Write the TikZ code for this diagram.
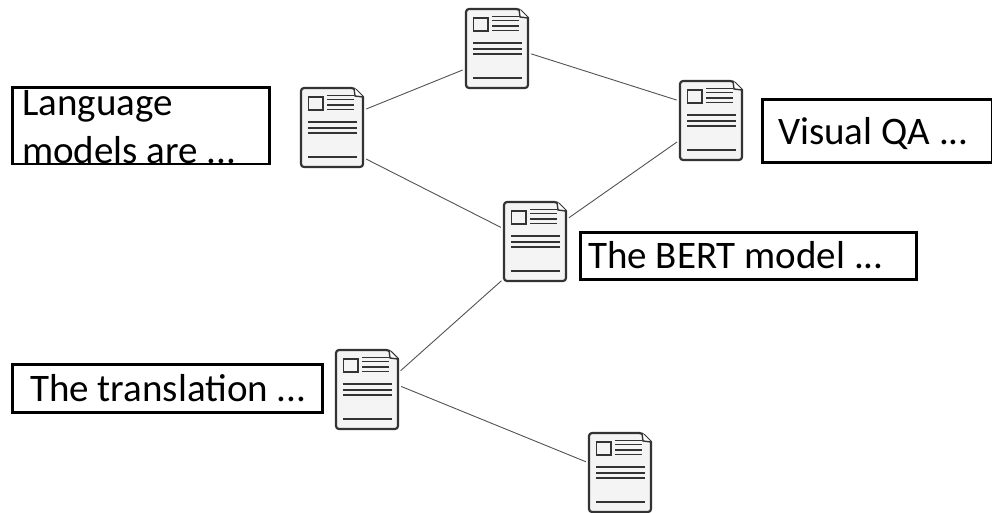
\documentclass[tikz,border=0pt]{standalone}
\usepackage{fontspec}
\setmainfont{Carlito}
\definecolor{ink}{HTML}{333333}
\definecolor{paper}{HTML}{F4F4F4}
\tikzset{
  x=1pt,y=-1pt,
  docnode/.style={rectangle,minimum width=62pt,minimum height=79pt,inner sep=0pt,outer sep=0pt},
  link/.style={draw=ink!85!white,line width=0.9pt,shorten >=3.5pt,shorten <=3.5pt},
  textbox/.style={draw=black,line width=2.3pt,rectangle,inner sep=0pt,outer sep=0pt,anchor=north west},
  caption/.style={font=\fontsize{39}{48}\selectfont,text=black,inner sep=0pt,align=left},
  docline/.style={draw=ink,line width=1.6pt},
  docedge/.style={draw=ink,line width=2.2pt,line join=round,fill=paper}
}
\newcommand{\docicon}[1]{%
  \begin{scope}[shift={(#1.north west)}]
    \draw[docedge,rounded corners=3pt] (0,0) -- (53,0) [sharp corners] -- (62,9) [rounded corners=3pt] -- (62,79) -- (0,79) -- cycle;
    \draw[draw=ink,line width=1.4pt,fill=white] (53,0) -- (54,8) -- (62,9);
    \draw[draw=ink,line width=1.9pt,fill=paper] (7.5,9) rectangle (22,22);
    \foreach \yy in {7.3,11.7,17,21.7} \draw[docline,line width=1.4pt] (26,\yy) -- (53,\yy);
    \foreach \yy in {34,40,45} \draw[docline,line width=1.4pt] (7,\yy) -- (56,\yy);
    \draw[docline] (7,69) -- (56,69);
  \end{scope}}
\begin{document}
\begin{tikzpicture}
\useasboundingbox (0,0) rectangle (992,512);
\node[docnode] (a) at (332,127.5) {};
\node[docnode] (b) at (497,48.5) {};
\node[docnode] (c) at (711,120.5) {};
\node[docnode] (d) at (535,241.5) {};
\node[docnode] (e) at (367,389.5) {};
\node[docnode] (f) at (620,472.5) {};
\draw[link] (a.29) -- (b.-147);
\draw[link] (a.-44) -- (d.158);
\draw[link] (b.-8) -- (c.148);
\draw[link] (c.212) -- (d.35);
\draw[link] (d.-130) -- (e.28);
\draw[link] (e.8) -- (f.163);
\docicon{a}\docicon{b}\docicon{c}\docicon{d}\docicon{e}\docicon{f}
\node[textbox,minimum width=257pt,minimum height=76.5pt] (lbox) at (12.5,87.5) {};
\node[textbox,minimum width=229.5pt,minimum height=63pt] (vbox) at (762.5,99.5) {};
\node[textbox,minimum width=336pt,minimum height=47pt] (bbox) at (580.5,232.5) {};
\node[textbox,minimum width=310pt,minimum height=48pt] (tbox) at (12.5,364.5) {};
\node[caption,anchor=base west] (ltext) at (22,163) {Language\\[0pt]models are ...};
\node[caption,anchor=base west] (vtext) at (778,144) {Visual QA ...};
\node[caption,anchor=base west] (btext) at (588,268) {The BERT model ...};
\node[caption,anchor=base west] (ttext) at (30,401) {The translation ...};
\end{tikzpicture}
\end{document}
